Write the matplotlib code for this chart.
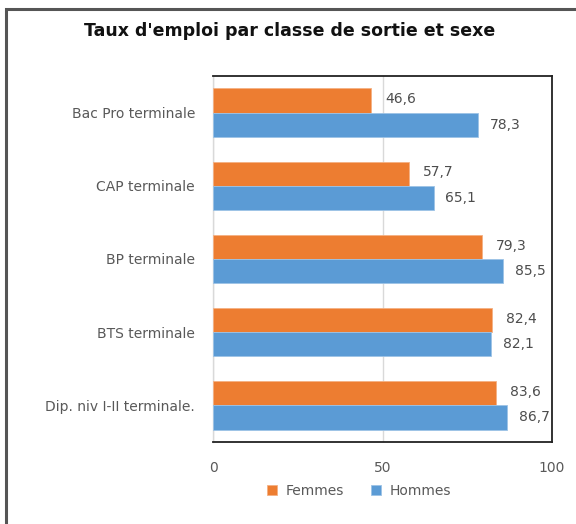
import matplotlib
matplotlib.use("Agg")
import matplotlib.pyplot as plt
from matplotlib.patches import Rectangle
import numpy as np

categories = ["Bac Pro terminale", "CAP terminale", "BP terminale", "BTS terminale", "Dip. niv I-II terminale."]
femmes = [46.6, 57.7, 79.3, 82.4, 83.6]
hommes = [78.3, 65.1, 85.5, 82.1, 86.7]
series_names = ["Femmes", "Hommes"]
xticks = [0, 50, 100]

plt.rcParams['font.family'] = ['DejaVu Sans']
grey = '#595959'

fig = plt.figure(figsize=(5.76, 5.24), dpi=100)
fig.patches.append(Rectangle((6/576, -0.1), 1.2, (1 - 9/524) + 0.1, transform=fig.transFigure,
                             fill=False, edgecolor='#555555', linewidth=2.2))

ax = fig.add_axes([213/576, 1 - 442/524, 339/576, 366/524])
y = np.arange(len(categories))
h = 0.33
c_f = '#ED7D31'
c_h = '#5B9BD5'
bf = ax.barh(y - h/2, femmes, height=h, color=c_f, edgecolor='#F4B183', linewidth=0.6, label=series_names[0], zorder=3)
bh = ax.barh(y + h/2, hommes, height=h, color=c_h, edgecolor='#9DC3E6', linewidth=0.6, label=series_names[1], zorder=3)

for yi, v in zip(y - h/2, femmes):
    ax.annotate(f"{v:.1f}".replace('.', ','), (v, yi), xytext=(10, 1), textcoords='offset points',
                va='center', ha='left', fontsize=10, color='#4d4d4d')
for yi, v in zip(y + h/2, hommes):
    ax.annotate(f"{v:.1f}".replace('.', ','), (v, yi), xytext=(8.5, 0), textcoords='offset points',
                va='center', ha='left', fontsize=10, color='#4d4d4d')

ax.set_xlim(0, 100)
ax.set_ylim(len(categories) - 0.5, -0.5)
ax.set_xticks(xticks)
ax.set_xticklabels([str(t) for t in xticks], fontsize=10, color=grey)
ax.set_yticks(y)
ax.set_yticklabels(categories, fontsize=10, color=grey)
ax.tick_params(axis='both', length=0)
ax.tick_params(axis='x', pad=14)
ax.tick_params(axis='y', pad=13)
ax.xaxis.grid(True, color='#D9D9D9', linewidth=1, zorder=0)
ax.set_axisbelow(True)
for s in ['top', 'right', 'bottom']:
    ax.spines[s].set_color('#222222')
    ax.spines[s].set_linewidth(1.3)
ax.spines['left'].set_color('#D9D9D9')
ax.spines['left'].set_linewidth(1)

fig.text(290/576, 1 - 31/524, "Taux d'emploi par classe de sortie et sexe", ha='center', va='center',
         fontsize=12.5, fontweight='bold', color='#111111')

fig.legend(handles=[bf, bh], labels=series_names, loc='center', bbox_to_anchor=(359/576, 1 - 491/524),
           ncol=2, frameon=False, fontsize=10, labelcolor=grey, handlelength=0.7, handleheight=0.7,
           columnspacing=2.0, handletextpad=0.6)

fig.savefig("out.png", dpi=100)
